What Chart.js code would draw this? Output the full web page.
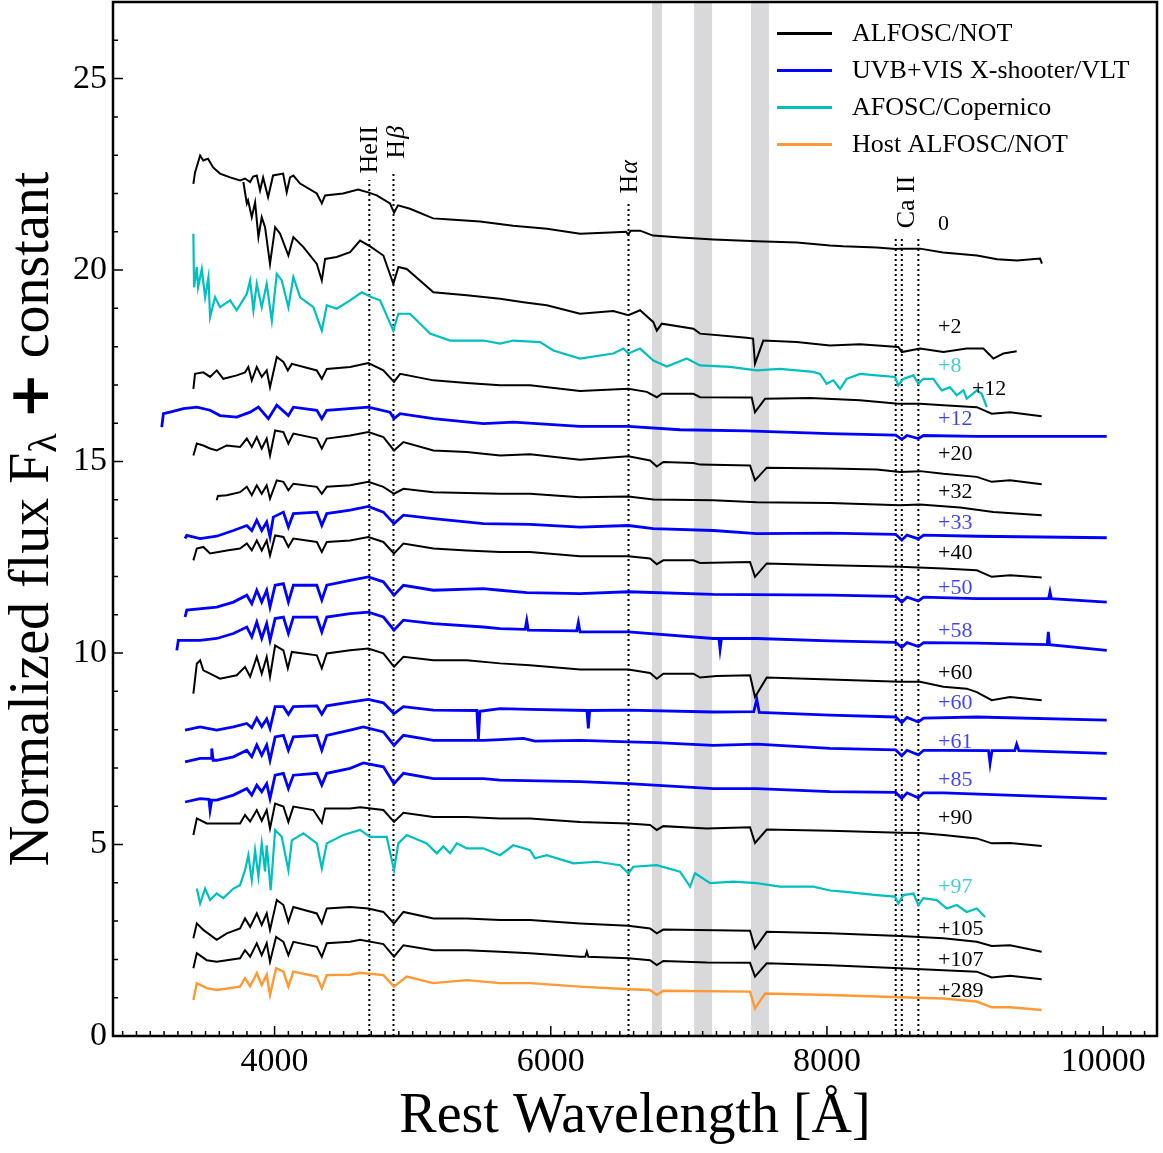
<!DOCTYPE html>
<html>
<head>
<meta charset="utf-8">
<script src="https://cdn.jsdelivr.net/npm/chart.js"></script>
<style>
  html, body { margin: 0; padding: 0; background: #fff; }
  #wrap { width: 1163px; height: 1153px; }
</style>
</head>
<body>
<div id="wrap"><canvas id="spec" width="1163" height="1153"></canvas></div>
<script>
// [rest wavelength (Å), normalized flux + offset]
const sp_0 = [[3412,22.25],[3424,22.55],[3461,22.99],[3484,22.86],[3518,22.91],[3555,22.68],[3605,22.52],[3678,22.42],[3750,22.34],[3786,22.39],[3823,22.3],[3845,22.44],[3871,22.47],[3895,22.08],[3917,22.42],[3953,21.9],[3989,22.47],[4062,22.52],[4088,22.03],[4112,22.42],[4136,22.47],[4185,22.26],[4306,22.0],[4342,21.74],[4366,21.95],[4496,22.0],[4605,22.1],[4677,22.03],[4740,21.95],[4836,21.74],[4865,21.5],[4894,21.69],[4981,21.6],[5148,21.35],[5271,21.32],[5488,21.27],[5727,21.16],[5973,21.08],[6212,20.95],[6430,20.98],[6545,21.0],[6560,20.93],[6580,21.03],[6647,21.03],[6741,20.9],[6940,20.85],[7178,20.8],[7493,20.75],[7783,20.72],[8022,20.64],[8117,20.62],[8362,20.59],[8498,20.55],[8529,20.56],[8674,20.56],[8841,20.46],[9087,20.38],[9232,20.28],[9377,20.25],[9543,20.3],[9557,20.17]];
const sp_2 = [[3774,22.3],[3799,21.74],[3808,21.82],[3835,21.38],[3859,21.77],[3883,20.86],[3907,21.38],[3931,21.12],[3967,20.16],[4004,21.12],[4040,20.95],[4100,20.38],[4136,20.86],[4209,20.6],[4306,20.16],[4342,19.73],[4366,20.29],[4450,20.34],[4547,20.47],[4619,20.77],[4692,20.62],[4788,20.38],[4860,19.64],[4897,20.08],[4957,20.03],[5150,19.42],[5392,19.34],[5633,19.25],[5802,19.16],[5971,19.08],[6212,18.86],[6453,18.93],[6562,18.82],[6647,18.95],[6743,18.64],[6768,18.42],[6804,18.6],[7033,18.47],[7081,18.34],[7419,18.23],[7465,18.21],[7479,17.56],[7539,18.16],[7781,18.12],[8022,18.03],[8239,18.06],[8517,17.99],[8542,17.86],[8674,17.95],[8843,17.86],[9012,17.95],[9133,17.95],[9205,17.69],[9277,17.82],[9374,17.88]];
const sp_8 = [[3412,20.95],[3417,19.55],[3437,20.08],[3446,19.55],[3473,20.03],[3497,19.29],[3521,19.81],[3533,18.77],[3569,19.29],[3605,19.03],[3678,19.21],[3726,18.95],[3799,19.38],[3823,19.73],[3847,18.95],[3871,19.64],[3907,19.03],[3943,19.64],[3980,18.68],[4016,19.9],[4052,19.73],[4100,19.03],[4136,19.82],[4185,19.29],[4281,19.03],[4342,18.42],[4378,19.08],[4450,18.99],[4547,19.21],[4631,19.42],[4704,19.29],[4764,19.21],[4860,18.42],[4896,18.86],[4981,18.86],[5126,18.34],[5271,18.16],[5512,18.16],[5633,18.08],[5729,18.16],[5923,18.12],[6019,17.9],[6212,17.69],[6453,17.82],[6526,17.95],[6562,17.82],[6647,17.95],[6743,17.64],[6840,17.48],[6985,17.69],[7081,17.51],[7298,17.47],[7492,17.38],[7660,17.42],[7902,17.34],[7950,17.29],[7998,17.03],[8046,17.12],[8095,16.9],[8143,17.16],[8239,17.29],[8361,17.25],[8493,17.21],[8517,16.99],[8553,17.16],[8626,17.25],[8662,17.03],[8698,17.16],[8770,17.16],[8831,16.86],[8891,16.94],[8940,16.73],[8988,16.86],[9012,16.64],[9085,16.86],[9121,16.77],[9157,16.42]];
const sp_12a = [[3412,16.9],[3424,17.29],[3484,17.33],[3533,17.21],[3581,17.38],[3629,17.16],[3726,17.25],[3786,17.33],[3810,17.47],[3835,17.12],[3871,17.47],[3907,17.21],[3943,17.38],[3967,16.94],[4016,17.73],[4064,17.6],[4096,17.38],[4125,17.55],[4306,17.38],[4342,17.16],[4378,17.42],[4547,17.47],[4679,17.57],[4788,17.38],[4865,17.08],[4909,17.29],[5150,17.12],[5392,17.05],[5633,16.99],[5850,16.99],[6212,16.84],[6562,16.9],[6695,16.82],[6768,16.68],[6804,16.77],[7033,16.77],[7081,16.68],[7455,16.67],[7479,16.29],[7552,16.64],[7878,16.66],[8239,16.6],[8517,16.51],[8674,16.51],[8843,16.47],[9085,16.42],[9193,16.25],[9326,16.29],[9555,16.18]];
const sp_12b = [[3183,15.9],[3195,16.25],[3243,16.29],[3340,16.38],[3437,16.42],[3533,16.34],[3605,16.2],[3726,16.16],[3823,16.29],[3883,16.42],[3955,16.12],[4016,16.47],[4100,16.2],[4136,16.42],[4306,16.34],[4342,16.12],[4378,16.34],[4679,16.42],[4836,16.29],[4865,16.12],[4909,16.25],[5150,16.12],[5512,15.99],[5729,16.03],[6212,15.92],[6562,15.92],[6936,15.83],[7419,15.8],[8022,15.73],[8498,15.69],[8542,15.58],[8580,15.68],[8662,15.6],[8700,15.68],[9085,15.66],[9600,15.66],[10026,15.66]];
const sp_20 = [[3412,15.16],[3437,15.47],[3484,15.42],[3533,15.34],[3581,15.29],[3654,15.42],[3750,15.38],[3799,15.6],[3835,15.38],[3871,15.64],[3907,15.34],[3943,15.6],[3967,15.16],[4004,15.81],[4064,15.77],[4100,15.47],[4136,15.73],[4306,15.6],[4342,15.34],[4378,15.6],[4547,15.68],[4679,15.77],[4788,15.64],[4865,15.29],[4933,15.51],[5150,15.29],[5392,15.25],[5633,15.16],[5850,15.19],[6212,15.05],[6562,15.14],[6719,15.03],[6768,14.87],[6815,14.99],[7033,14.96],[7081,14.92],[7443,14.9],[7479,14.51],[7564,14.84],[8022,14.82],[8361,14.79],[8529,14.73],[8674,14.75],[8843,14.68],[9085,14.6],[9193,14.47],[9326,14.51],[9555,14.41]];
const sp_32 = [[3581,13.99],[3590,14.1],[3654,14.12],[3750,14.2],[3799,14.34],[3835,14.12],[3871,14.38],[3907,14.16],[3943,14.38],[3967,14.03],[4016,14.51],[4064,14.47],[4100,14.25],[4136,14.42],[4306,14.34],[4342,14.16],[4378,14.34],[4547,14.38],[4679,14.47],[4788,14.34],[4865,14.16],[4933,14.29],[5150,14.2],[5633,14.16],[5850,14.16],[6212,14.07],[6562,14.09],[6743,14.01],[7177,13.99],[7492,13.94],[8022,13.92],[8529,13.86],[8674,13.88],[8964,13.8],[9205,13.68],[9555,13.6]];
const sp_33 = [[3352,12.99],[3364,13.07],[3461,12.99],[3581,13.05],[3702,13.2],[3799,13.33],[3835,13.2],[3871,13.47],[3907,13.2],[3943,13.42],[3967,13.03],[3991,13.55],[4064,13.68],[4100,13.29],[4136,13.64],[4306,13.68],[4342,13.33],[4378,13.64],[4547,13.73],[4679,13.83],[4788,13.68],[4865,13.38],[4933,13.6],[5150,13.51],[5512,13.38],[5850,13.36],[6212,13.29],[6562,13.33],[6743,13.25],[7177,13.2],[7492,13.12],[8022,13.13],[8498,13.1],[8542,12.95],[8580,13.08],[8662,12.98],[8700,13.08],[9085,13.05],[10026,13.01]];
const sp_40 = [[3412,12.42],[3437,12.73],[3484,12.77],[3533,12.6],[3654,12.68],[3750,12.73],[3799,12.86],[3835,12.68],[3871,12.94],[3907,12.68],[3943,12.94],[3967,12.55],[4004,13.07],[4064,13.03],[4100,12.77],[4136,12.99],[4306,12.9],[4342,12.64],[4378,12.9],[4547,12.94],[4679,13.03],[4788,12.9],[4865,12.6],[4933,12.86],[5150,12.73],[5392,12.68],[5633,12.64],[5850,12.64],[6212,12.53],[6562,12.53],[6719,12.47],[6768,12.32],[6815,12.42],[7033,12.42],[7081,12.35],[7443,12.38],[7479,11.99],[7564,12.34],[8022,12.29],[8529,12.25],[8843,12.21],[9085,12.16],[9193,11.99],[9326,12.03],[9555,11.97]];
const sp_50 = [[3352,10.94],[3364,11.12],[3581,11.2],[3702,11.33],[3799,11.51],[3835,11.29],[3871,11.64],[3907,11.33],[3943,11.64],[3967,11.2],[4004,11.77],[4064,11.81],[4100,11.33],[4136,11.77],[4306,11.77],[4342,11.38],[4378,11.77],[4547,11.9],[4679,11.99],[4788,11.86],[4865,11.51],[4933,11.77],[5150,11.64],[5512,11.68],[5633,11.64],[5826,11.58],[6212,11.55],[6562,11.6],[7177,11.53],[8022,11.51],[8498,11.48],[8542,11.33],[8580,11.46],[8662,11.36],[8700,11.46],[9085,11.42],[9605,11.42],[9615,11.6],[9625,11.42],[10026,11.33]];
const sp_58 = [[3292,10.07],[3303,10.33],[3461,10.33],[3581,10.38],[3702,10.51],[3799,10.68],[3835,10.42],[3871,10.81],[3907,10.38],[3943,10.77],[3967,10.33],[4004,10.9],[4064,10.94],[4100,10.51],[4136,10.94],[4306,10.94],[4342,10.55],[4378,10.94],[4547,11.03],[4679,11.07],[4788,10.94],[4865,10.6],[4933,10.86],[5150,10.77],[5512,10.68],[5633,10.64],[5815,10.62],[5826,10.85],[5837,10.6],[6188,10.58],[6200,10.8],[6212,10.55],[6562,10.55],[7177,10.38],[7218,10.38],[7226,10.1],[7236,10.38],[7492,10.38],[8022,10.32],[8498,10.28],[8542,10.15],[8580,10.27],[8662,10.17],[8700,10.27],[9085,10.26],[9595,10.22],[9603,10.55],[9612,10.22],[10026,10.07]];
const sp_60a = [[3412,8.94],[3437,9.72],[3461,9.81],[3484,9.55],[3533,9.46],[3605,9.33],[3726,9.42],[3786,9.64],[3823,9.38],[3871,9.9],[3907,9.46],[3943,9.9],[3967,9.38],[4004,10.2],[4064,10.07],[4096,9.6],[4125,10.03],[4306,9.94],[4342,9.6],[4378,9.99],[4547,10.07],[4679,10.12],[4788,9.99],[4865,9.64],[4933,9.9],[5150,9.81],[5392,9.81],[5633,9.73],[5850,9.68],[6212,9.57],[6562,9.57],[6719,9.48],[6768,9.33],[6815,9.46],[7033,9.46],[7081,9.36],[7202,9.4],[7443,9.42],[7479,8.85],[7564,9.36],[8022,9.31],[8529,9.25],[8674,9.25],[8843,9.12],[9012,9.07],[9085,8.98],[9193,8.77],[9326,8.85],[9555,8.77]];
const sp_60b = [[3352,7.99],[3461,8.07],[3581,7.99],[3702,8.07],[3799,8.16],[3835,8.05],[3871,8.3],[3907,8.08],[3943,8.28],[3967,8.03],[4004,8.6],[4064,8.6],[4100,8.4],[4136,8.6],[4306,8.62],[4342,8.4],[4378,8.62],[4547,8.72],[4679,8.79],[4788,8.7],[4865,8.42],[4933,8.6],[5150,8.51],[5465,8.5],[5476,7.75],[5487,8.48],[5633,8.55],[5850,8.53],[6262,8.5],[6272,8.03],[6282,8.5],[6562,8.51],[7177,8.46],[7470,8.47],[7492,8.79],[7510,8.45],[8022,8.38],[8498,8.33],[8542,8.18],[8580,8.32],[8662,8.2],[8700,8.3],[9085,8.33],[10026,8.25]];
const sp_61 = [[3352,7.16],[3461,7.25],[3540,7.25],[3545,7.51],[3555,7.2],[3581,7.2],[3702,7.29],[3799,7.46],[3835,7.29],[3871,7.6],[3907,7.33],[3943,7.6],[3967,7.2],[4004,7.81],[4064,7.85],[4100,7.46],[4136,7.81],[4306,7.85],[4342,7.46],[4378,7.85],[4547,7.99],[4643,8.07],[4788,7.94],[4865,7.59],[4933,7.85],[5150,7.72],[5512,7.72],[5633,7.74],[5802,7.77],[5886,7.7],[6212,7.72],[6562,7.68],[6768,7.66],[7177,7.59],[7492,7.62],[8022,7.51],[8498,7.47],[8542,7.32],[8580,7.46],[8662,7.34],[8700,7.46],[8843,7.46],[9170,7.45],[9181,7.12],[9195,7.45],[9360,7.45],[9374,7.62],[9390,7.45],[10026,7.38]];
const sp_85 = [[3352,6.11],[3461,6.2],[3525,6.18],[3533,5.9],[3545,6.16],[3581,6.16],[3702,6.29],[3799,6.46],[3835,6.29],[3871,6.55],[3907,6.38],[3943,6.59],[3967,6.2],[4004,6.81],[4064,6.86],[4100,6.46],[4136,6.81],[4306,6.86],[4342,6.55],[4378,6.86],[4547,6.99],[4643,7.13],[4788,7.03],[4865,6.59],[4933,6.86],[5150,6.72],[5512,6.72],[5633,6.68],[6212,6.64],[6562,6.59],[7177,6.46],[7492,6.46],[8022,6.38],[8498,6.36],[8542,6.2],[8580,6.35],[8662,6.22],[8700,6.35],[8843,6.35],[10026,6.2]];
const sp_90 = [[3412,5.25],[3437,5.68],[3509,5.55],[3581,5.55],[3750,5.55],[3786,5.77],[3823,5.6],[3871,5.9],[3907,5.62],[3943,5.9],[3967,5.42],[4004,6.07],[4064,5.99],[4100,5.59],[4136,5.99],[4281,5.9],[4342,5.57],[4366,5.94],[4547,5.94],[4619,5.97],[4788,5.9],[4865,5.59],[4933,5.83],[5150,5.72],[5392,5.72],[5633,5.68],[5850,5.68],[6212,5.59],[6562,5.55],[6719,5.51],[6768,5.38],[6815,5.48],[7130,5.42],[7443,5.45],[7479,5.04],[7564,5.39],[8022,5.36],[8529,5.31],[8674,5.3],[8843,5.25],[9085,5.16],[9193,5.03],[9326,5.04],[9555,4.96]];
const sp_97 = [[3437,3.85],[3461,3.46],[3497,3.85],[3533,3.55],[3581,3.72],[3629,3.6],[3702,3.85],[3750,3.94],[3786,4.33],[3810,4.72],[3835,4.07],[3859,4.85],[3883,4.16],[3907,5.03],[3931,4.3],[3943,4.98],[3972,3.81],[4004,5.38],[4052,5.2],[4100,4.33],[4125,5.11],[4209,5.29],[4306,5.03],[4342,4.38],[4378,5.03],[4498,5.25],[4619,5.38],[4692,5.2],[4812,5.2],[4865,4.33],[4896,5.03],[4957,5.25],[5102,5.03],[5175,4.77],[5222,4.95],[5271,4.77],[5319,5.03],[5392,4.9],[5512,4.9],[5633,4.72],[5729,4.98],[5850,4.85],[5886,4.64],[5971,4.72],[6164,4.51],[6333,4.55],[6502,4.46],[6562,4.25],[6598,4.42],[6768,4.46],[6936,4.29],[7009,3.9],[7045,4.25],[7154,3.99],[7322,4.03],[7492,3.99],[7660,3.9],[7902,3.9],[8022,3.8],[8119,3.77],[8361,3.68],[8493,3.64],[8517,3.46],[8553,3.68],[8626,3.72],[8662,3.42],[8698,3.6],[8795,3.55],[8868,3.33],[8940,3.42],[9012,3.24],[9085,3.33],[9145,3.11]];
const sp_105 = [[3412,2.55],[3437,2.94],[3484,2.77],[3581,2.51],[3654,2.68],[3750,2.81],[3786,3.07],[3823,2.85],[3871,3.2],[3907,2.9],[3943,3.2],[3967,2.77],[4016,3.55],[4064,3.42],[4100,2.98],[4136,3.37],[4306,3.2],[4342,2.94],[4378,3.33],[4547,3.37],[4679,3.33],[4788,3.24],[4865,2.94],[4933,3.24],[5150,3.07],[5392,3.07],[5633,3.03],[5850,3.03],[6212,2.94],[6562,2.88],[6719,2.81],[6768,2.68],[6815,2.78],[7443,2.75],[7479,2.29],[7564,2.72],[8022,2.68],[8529,2.61],[8843,2.55],[9085,2.46],[9193,2.35],[9326,2.37],[9555,2.2]];
const sp_107 = [[3412,1.77],[3437,2.16],[3509,1.98],[3581,1.94],[3750,2.03],[3786,2.24],[3823,2.07],[3871,2.42],[3907,2.11],[3943,2.42],[3967,1.94],[4011,2.59],[4064,2.46],[4100,2.11],[4136,2.46],[4306,2.33],[4342,2.07],[4378,2.42],[4547,2.46],[4619,2.51],[4788,2.4],[4865,2.07],[4933,2.37],[5150,2.24],[5392,2.24],[5633,2.2],[5850,2.16],[6212,2.07],[6250,2.07],[6261,2.2],[6272,2.07],[6562,2.03],[6719,1.98],[6768,1.85],[6815,1.96],[7130,1.92],[7443,1.91],[7479,1.55],[7564,1.9],[8022,1.85],[8529,1.77],[8843,1.72],[9085,1.68],[9193,1.53],[9326,1.57],[9555,1.48]];
const sp_289 = [[3412,0.94],[3437,1.38],[3509,1.25],[3581,1.2],[3750,1.29],[3786,1.51],[3823,1.3],[3871,1.64],[3907,1.33],[3943,1.6],[3967,1.07],[4011,1.77],[4064,1.68],[4100,1.29],[4136,1.68],[4306,1.55],[4342,1.25],[4378,1.59],[4547,1.6],[4619,1.65],[4788,1.59],[4865,1.29],[4957,1.55],[5150,1.38],[5392,1.46],[5633,1.38],[5850,1.38],[6212,1.29],[6562,1.22],[6719,1.2],[6768,1.07],[6815,1.18],[7443,1.16],[7479,0.72],[7552,1.11],[8022,1.07],[8529,1.01],[8843,0.98],[9085,0.9],[9193,0.75],[9326,0.75],[9555,0.68]];

const spectra = [sp_0, sp_2, sp_8, sp_12a, sp_12b, sp_20, sp_32, sp_33, sp_40, sp_50, sp_58, sp_60a, sp_60b, sp_61, sp_85, sp_90, sp_97, sp_105, sp_107, sp_289];
const instrument = ['alfosc','alfosc','afosc','alfosc','xsh','alfosc','alfosc','xsh','alfosc','xsh','xsh','alfosc','xsh','xsh','xsh','alfosc','afosc','alfosc','alfosc','host'];
const epochs = ['0','+2','+8','+12','+12','+20','+32','+33','+40','+50','+58','+60','+60','+61','+85','+90','+97','+105','+107','+289'];
const epochWave = [8805,8805,8805,9050,8805,8805,8805,8805,8805,8805,8805,8805,8805,8805,8805,8805,8805,8805,8805,8805];
const epochFlux = [21.19,18.5,17.48,16.88,16.1,15.19,14.2,13.39,12.6,11.69,10.57,9.47,8.69,7.67,6.68,5.69,3.89,2.79,1.98,1.17];

// identified lines
const lineWaves = [4686, 4861, 6563, 8498, 8542, 8662];
const lineTops = [22.35, 22.52, 21.74, 20.82, 20.82, 20.82];
const lineRoman = ['HeII', 'H', 'H', 'Ca II'];
const lineGreek = ['', 'β', 'α', ''];
const lineNameWave = [4695, 4885, 6578, 8582];
const lineNameBase = [22.52, 22.91, 22.0, 21.09];

// telluric bands
const bandLo = [6733, 7038, 7450];
const bandHi = [6806, 7168, 7581];

const xTicks = [4000, 6000, 8000, 10000];
const yTicks = [0, 5, 10, 15, 20, 25];

const legendKeys = ['alfosc', 'xsh', 'afosc', 'host'];
const legendNames = ['ALFOSC/NOT', 'UVB+VIS X-shooter/VLT', 'AFOSC/Copernico', 'Host ALFOSC/NOT'];

const serif = "'Liberation Serif', 'Times New Roman', serif";
const styles = {
  alfosc: { line: '#000000', text: '#000000', width: 2 },
  xsh:    { line: '#0000ff', text: 'rgba(0,0,255,0.75)', width: 2.8 },
  afosc:  { line: '#00bfbf', text: 'rgba(0,191,191,0.75)', width: 2.2 },
  host:   { line: '#ff9933', text: '#000000', width: 2.4 }
};

const decor = {
  id: 'decor',
  beforeDatasetsDraw(chart) {
    const { ctx, chartArea: a, scales: { x, y } } = chart;
    ctx.save();
    ctx.fillStyle = '#d9d9db';
    bandLo.forEach((lo, i) => {
      const x0 = x.getPixelForValue(lo), x1 = x.getPixelForValue(bandHi[i]);
      ctx.fillRect(x0, a.top, x1 - x0, a.bottom - a.top);
    });
    ctx.strokeStyle = '#000';
    ctx.lineWidth = 2;
    ctx.setLineDash([2, 3]);
    lineWaves.forEach((w, i) => {
      const px = x.getPixelForValue(w);
      ctx.beginPath();
      ctx.moveTo(px, a.bottom);
      ctx.lineTo(px, y.getPixelForValue(lineTops[i]));
      ctx.stroke();
    });
    ctx.restore();
  },
  afterDraw(chart) {
    const { ctx, chartArea: a, scales: { x, y } } = chart;
    ctx.save();
    ctx.fillStyle = '#000';
    ctx.strokeStyle = '#000';

    // frame + inward ticks
    ctx.lineWidth = 2.5;
    ctx.strokeRect(a.left, a.top, a.right - a.left, a.bottom - a.top);
    ctx.lineWidth = 1.5;
    ctx.beginPath();
    for (let v = 2900; v <= 10300; v += 100) {
      const px = x.getPixelForValue(v);
      ctx.moveTo(px, a.bottom);
      ctx.lineTo(px, a.bottom - (v % 2000 === 0 ? 10 : 5));
    }
    for (let v = 0; v <= 27; v++) {
      const py = y.getPixelForValue(v);
      ctx.moveTo(a.left, py);
      ctx.lineTo(a.left + (v % 5 === 0 ? 10 : 5), py);
    }
    ctx.stroke();

    // line identifications
    lineRoman.forEach((name, i) => {
      ctx.save();
      ctx.translate(x.getPixelForValue(lineNameWave[i]), y.getPixelForValue(lineNameBase[i]));
      ctx.rotate(-Math.PI / 2);
      ctx.textAlign = 'left';
      ctx.textBaseline = 'middle';
      ctx.font = `26px ${serif}`;
      ctx.fillText(name, 0, 0);
      if (lineGreek[i]) {
        const w = ctx.measureText(name).width;
        ctx.font = `italic 26px ${serif}`;
        ctx.fillText(lineGreek[i], w + 1, 0);
      }
      ctx.restore();
    });

    // epoch labels
    ctx.font = `22px ${serif}`;
    ctx.textAlign = 'left';
    ctx.textBaseline = 'middle';
    epochs.forEach((t, i) => {
      ctx.fillStyle = styles[instrument[i]].text;
      ctx.fillText(t, x.getPixelForValue(epochWave[i]), y.getPixelForValue(epochFlux[i]));
    });

    // legend
    ctx.font = `26px ${serif}`;
    legendKeys.forEach((k, i) => {
      const ly = 33.5 + i * 37;
      ctx.strokeStyle = styles[k].line;
      ctx.lineWidth = 3;
      ctx.beginPath();
      ctx.moveTo(777, ly);
      ctx.lineTo(832, ly);
      ctx.stroke();
      ctx.fillStyle = '#000';
      ctx.fillText(legendNames[i], 852, ly + 1);
    });

    // y axis title with subscript
    ctx.translate(33, (a.top + a.bottom) / 2);
    ctx.rotate(-Math.PI / 2);
    ctx.fillStyle = '#000';
    ctx.textBaseline = 'middle';
    const big = `56px ${serif}`;
    const parts = [
      ['Normalized flux F', big, 0],
      ['λ', `40px ${serif}`, 12],
      [' ', big, 0],
      ['+', `bold 56px 'DejaVu Sans', sans-serif`, 0],
      [' constant', big, 0]
    ];
    let total = 0;
    parts.forEach(p => { ctx.font = p[1]; total += ctx.measureText(p[0]).width; });
    let cx = -total / 2;
    parts.forEach(p => {
      ctx.font = p[1];
      ctx.fillText(p[0], cx, p[2]);
      cx += ctx.measureText(p[0]).width;
    });
    ctx.restore();
  }
};

function noPad(s) {
  s.paddingTop = 0;
  s.paddingBottom = 0;
  s.paddingLeft = 0;
  s.paddingRight = 0;
}

new Chart(document.getElementById('spec').getContext('2d'), {
  type: 'line',
  data: {
    datasets: spectra.map((s, i) => ({
      data: s.map(p => ({ x: p[0], y: p[1] })),
      borderColor: styles[instrument[i]].line,
      borderWidth: styles[instrument[i]].width,
      pointRadius: 0,
      fill: false,
      tension: 0
    }))
  },
  options: {
    responsive: false,
    animation: false,
    devicePixelRatio: 1,
    layout: { padding: { top: 2, right: 6, left: 0, bottom: 0 } },
    plugins: { legend: { display: false }, tooltip: { enabled: false } },
    scales: {
      x: {
        type: 'linear',
        min: 2830,
        max: 10390,
        grid: { display: false, drawTicks: false },
        border: { display: false },
        afterBuildTicks: s => { s.ticks = xTicks.map(v => ({ value: v })); },
        afterFit: s => { s.height = 117; noPad(s); },
        ticks: {
          color: '#000',
          padding: 6,
          maxRotation: 0,
          font: { family: serif, size: 34 },
          callback: v => String(v)
        },
        title: {
          display: true,
          text: 'Rest Wavelength [Å]',
          color: '#000',
          font: { family: serif, size: 56 },
          padding: { top: 0, bottom: 2 }
        }
      },
      y: {
        min: 0,
        max: 27,
        grid: { display: false, drawTicks: false },
        border: { display: false },
        afterBuildTicks: s => { s.ticks = yTicks.map(v => ({ value: v })); },
        afterFit: s => { s.width = 113; noPad(s); },
        ticks: {
          color: '#000',
          padding: 6,
          font: { family: serif, size: 34 },
          callback: v => String(v)
        }
      }
    }
  },
  plugins: [decor]
});
</script>
</body>
</html>
